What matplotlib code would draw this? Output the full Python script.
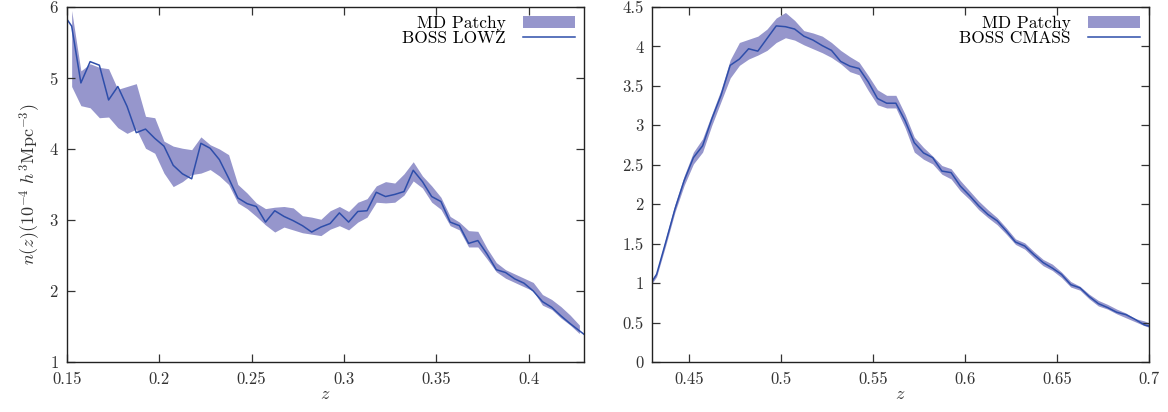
import matplotlib
matplotlib.use('Agg')
import matplotlib.pyplot as plt
import numpy as np

plt.rcParams['font.family'] = 'serif'
plt.rcParams['font.serif'] = ['cmr10']
plt.rcParams['mathtext.fontset'] = 'cm'
plt.rcParams['axes.formatter.use_mathtext'] = True

# LOWZ panel
z_lowz = [0.1475, 0.1525, 0.1575, 0.1625, 0.1675, 0.1725, 0.1775, 0.1825, 0.1875, 0.1925,
          0.1975, 0.2025, 0.2075, 0.2125, 0.2175, 0.2225, 0.2275, 0.2325, 0.2375, 0.2425,
          0.2475, 0.2525, 0.2575, 0.2625, 0.2675, 0.2725, 0.2775, 0.2825, 0.2875, 0.2925,
          0.2975, 0.3025, 0.3075, 0.3125, 0.3175, 0.3225, 0.3275, 0.3325, 0.3375, 0.3425,
          0.3475, 0.3525, 0.3575, 0.3625, 0.3675, 0.3725, 0.3775, 0.3825, 0.3875, 0.3925,
          0.3975, 0.4025, 0.4075, 0.4125, 0.4175, 0.4225, 0.4275, 0.4325]
n_lowz = [5.92, 5.73, 4.93, 5.23, 5.18, 4.69, 4.88, 4.60, 4.23, 4.28,
          4.15, 4.04, 3.77, 3.65, 3.58, 4.08, 4.01, 3.85, 3.59, 3.31,
          3.23, 3.19, 2.97, 3.13, 3.05, 2.99, 2.92, 2.83, 2.90, 2.95,
          3.10, 2.97, 3.12, 3.13, 3.39, 3.33, 3.36, 3.40, 3.70, 3.54,
          3.33, 3.26, 2.97, 2.92, 2.67, 2.71, 2.52, 2.30, 2.26, 2.17,
          2.11, 2.00, 1.85, 1.77, 1.65, 1.54, 1.44, 1.34]

z_patchy_lowz = z_lowz[1:-1]
hi_lowz = [5.95, 5.10, 5.20, 5.15, 5.13, 4.84, 4.88, 4.92, 4.46, 4.44,
           4.11, 4.04, 4.01, 3.99, 4.17, 4.06, 4.00, 3.92, 3.50, 3.38,
           3.24, 3.16, 3.18, 3.19, 3.17, 3.06, 3.04, 3.01, 3.13, 3.19,
           3.12, 3.25, 3.30, 3.48, 3.54, 3.52, 3.65, 3.82, 3.62, 3.48,
           3.32, 3.05, 2.97, 2.85, 2.84, 2.60, 2.40, 2.30, 2.24, 2.18,
           2.12, 1.95, 1.88, 1.78, 1.66, 1.52]
lo_lowz = [4.88, 4.61, 4.58, 4.44, 4.45, 4.30, 4.22, 4.28, 4.01, 3.94,
           3.66, 3.47, 3.54, 3.64, 3.66, 3.71, 3.62, 3.50, 3.24, 3.16,
           3.05, 2.93, 2.83, 2.90, 2.86, 2.82, 2.80, 2.78, 2.87, 2.92,
           2.86, 2.97, 3.04, 3.25, 3.24, 3.25, 3.35, 3.55, 3.45, 3.25,
           3.15, 2.92, 2.86, 2.62, 2.62, 2.45, 2.27, 2.18, 2.12, 2.06,
           2.00, 1.80, 1.74, 1.62, 1.52, 1.40]

# CMASS panel
z_cmass = [0.4275, 0.4325, 0.4375, 0.4425, 0.4475, 0.4525, 0.4575, 0.4625, 0.4675, 0.4725,
           0.4775, 0.4825, 0.4875, 0.4925, 0.4975, 0.5025, 0.5075, 0.5125, 0.5175, 0.5225,
           0.5275, 0.5325, 0.5375, 0.5425, 0.5475, 0.5525, 0.5575, 0.5625, 0.5675, 0.5725,
           0.5775, 0.5825, 0.5875, 0.5925, 0.5975, 0.6025, 0.6075, 0.6125, 0.6175, 0.6225,
           0.6275, 0.6325, 0.6375, 0.6425, 0.6475, 0.6525, 0.6575, 0.6625, 0.6675, 0.6725,
           0.6775, 0.6825, 0.6875, 0.6925, 0.6975, 0.7025]
n_cmass = [0.93, 1.11, 1.52, 1.94, 2.30, 2.59, 2.74, 3.08, 3.38, 3.76,
           3.84, 3.97, 3.94, 4.10, 4.26, 4.25, 4.22, 4.13, 4.08, 4.01,
           3.95, 3.81, 3.75, 3.72, 3.55, 3.34, 3.28, 3.28, 3.06, 2.78,
           2.65, 2.59, 2.42, 2.40, 2.23, 2.11, 1.98, 1.87, 1.79, 1.66,
           1.52, 1.47, 1.36, 1.26, 1.19, 1.11, 0.98, 0.94, 0.83, 0.74,
           0.69, 0.63, 0.60, 0.54, 0.47, 0.44]
hi_cmass = [0.95, 1.14, 1.57, 2.00, 2.36, 2.66, 2.83, 3.14, 3.45, 3.83,
            4.05, 4.09, 4.13, 4.22, 4.36, 4.43, 4.33, 4.20, 4.17, 4.13,
            4.05, 3.95, 3.87, 3.80, 3.63, 3.45, 3.38, 3.38, 3.14, 2.85,
            2.72, 2.61, 2.49, 2.45, 2.30, 2.17, 2.04, 1.93, 1.83, 1.70,
            1.56, 1.51, 1.40, 1.30, 1.24, 1.14, 1.02, 0.96, 0.86, 0.78,
            0.73, 0.67, 0.62, 0.55, 0.52, 0.47]
lo_cmass = [0.91, 1.08, 1.48, 1.90, 2.24, 2.51, 2.66, 3.00, 3.30, 3.60,
            3.76, 3.84, 3.89, 3.95, 4.05, 4.11, 4.08, 4.02, 3.97, 3.92,
            3.86, 3.78, 3.68, 3.64, 3.44, 3.26, 3.22, 3.22, 2.97, 2.66,
            2.57, 2.51, 2.38, 2.32, 2.17, 2.06, 1.93, 1.83, 1.74, 1.62,
            1.49, 1.43, 1.32, 1.22, 1.16, 1.07, 0.95, 0.91, 0.80, 0.71,
            0.67, 0.61, 0.56, 0.51, 0.46, 0.42]

fill_col = '#9696cc'
line_col = '#2e4eaa'

fig = plt.figure(figsize=(11.68, 4.12), dpi=100)
ax1 = fig.add_axes([0.0574, 0.1214, 0.4426, 0.8617])
ax2 = fig.add_axes([0.5582, 0.1214, 0.4255, 0.8617])

def panel(ax, zb, lo, hi, zl, nl, name):
    ax.fill_between(zb, lo, hi, color=fill_col, lw=0, label='MD Patchy')
    ax.plot(zl, nl, color=line_col, lw=1.1, label=name)
    ax.tick_params(direction='in', top=True, right=True, length=6, width=0.9,
                   labelsize=12, colors='#333333')
    ax.tick_params(axis='x', pad=7)
    ax.tick_params(axis='y', pad=6)
    for s in ax.spines.values():
        s.set_linewidth(1.0)
        s.set_color('#222222')
    ax.set_xlabel(r'$z$', fontsize=13, color='#333333', labelpad=0)
    ax.legend(loc='upper right', frameon=False, markerfirst=False, fontsize=12.5,
              handlelength=3.0, handleheight=0.7, labelspacing=0.0,
              borderaxespad=0.2, borderpad=0.3, handletextpad=1.0)

panel(ax1, z_patchy_lowz, lo_lowz, hi_lowz, z_lowz, n_lowz, 'BOSS LOWZ')
ax1.set_xlim(0.15, 0.43)
ax1.set_ylim(1, 6)
ax1.set_xticks(np.arange(0.15, 0.401, 0.05))
ax1.set_xticklabels(['0.15', '0.2', '0.25', '0.3', '0.35', '0.4'])
ax1.set_yticks(range(1, 7))
ax1.set_ylabel(r'$n(z)(10^{-4}\ h^3\mathrm{Mpc}^{-3})$', fontsize=13, color='#333333')

panel(ax2, z_cmass, lo_cmass, hi_cmass, z_cmass, n_cmass, 'BOSS CMASS')
ax2.set_xlim(0.43, 0.7)
ax2.set_ylim(0, 4.5)
ax2.set_xticks(np.arange(0.45, 0.701, 0.05))
ax2.set_xticklabels(['0.45', '0.5', '0.55', '0.6', '0.65', '0.7'])
ax2.set_yticks(np.arange(0, 4.51, 0.5))
ax2.set_yticklabels(['0', '0.5', '1', '1.5', '2', '2.5', '3', '3.5', '4', '4.5'])

fig.savefig('out.png', dpi=100)
